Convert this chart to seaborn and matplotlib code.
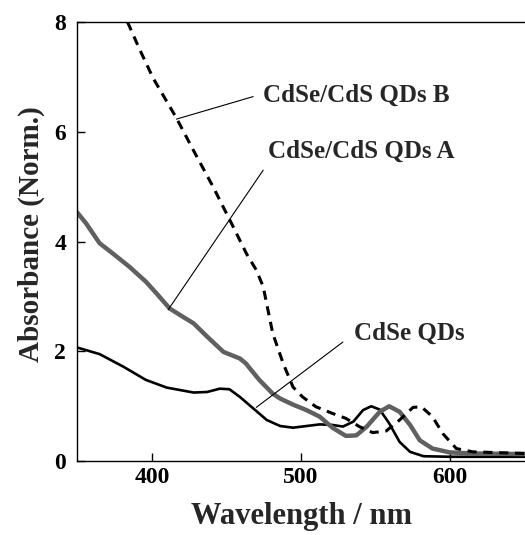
import numpy as np
import pandas as pd
import matplotlib
matplotlib.use("Agg")
import matplotlib.pyplot as plt
import seaborn as sns

# CdSe QDs (black solid)
cdse_x = [350, 365, 381, 396, 410, 428, 437, 445.5, 452, 459, 468, 477, 486, 494.6, 503.6,
          512.5, 521, 528, 535, 541.5, 547, 552.7, 559, 566, 573, 582, 600, 625, 650]
cdse_y = [2.07, 1.95, 1.72, 1.48, 1.34, 1.25, 1.26, 1.32, 1.31, 1.17, 0.96, 0.75, 0.64, 0.61, 0.64,
          0.67, 0.66, 0.63, 0.72, 0.93, 1.00, 0.94, 0.69, 0.35, 0.17, 0.09, 0.08, 0.08, 0.08]

# CdSe/CdS QDs A (gray)
a_x = [350, 356, 365, 374, 385, 396, 403, 412, 419, 428, 437, 448, 459, 463, 472, 481, 486,
       494.6, 503.6, 512.5, 521, 530, 537, 544, 552.7, 559, 566, 573, 579.5, 588, 599.5, 615, 650]
a_y = [4.53, 4.33, 3.97, 3.78, 3.54, 3.27, 3.06, 2.78, 2.66, 2.51, 2.27, 1.99, 1.87, 1.78, 1.48, 1.23, 1.14,
       1.03, 0.93, 0.81, 0.61, 0.46, 0.47, 0.63, 0.90, 1.00, 0.90, 0.66, 0.38, 0.23, 0.16, 0.14, 0.13]

# CdSe/CdS QDs B (dashed)
b_x = [383.7, 392, 401, 416.5, 427.7, 441, 454.5, 463.4, 470, 474.6, 481, 488, 494.6, 501, 510,
       521, 530, 539, 548, 557, 566, 575, 580.6, 588, 595, 604, 615, 650]
b_y = [8.0, 7.49, 6.97, 6.25, 5.67, 5.0, 4.27, 3.78, 3.48, 3.18, 2.33, 1.78, 1.35, 1.17, 0.99,
       0.87, 0.78, 0.63, 0.52, 0.55, 0.75, 0.98, 0.99, 0.81, 0.50, 0.23, 0.17, 0.14]

labels = ["CdSe/CdS QDs B", "CdSe/CdS QDs A", "CdSe QDs"]
label_text_xy = [(474.5, 6.67), (477.9, 5.64), (535.5, 2.33)]
label_line_start = [(467.9, 6.64), (474.6, 5.30), (528.0, 2.17)]
label_line_end = [(416.5, 6.23), (411.0, 2.76), (470.0, 0.98)]

xticks = [400, 500, 600]
yticks = [0, 2, 4, 6, 8]

sns.set_theme(style="ticks")
plt.rcParams['font.family'] = ['Liberation Serif', 'DejaVu Serif']
plt.rcParams['font.weight'] = 'bold'

fig = plt.figure(figsize=(5.25, 5.35), dpi=100)
ax = fig.add_axes([0.147, 0.138, 0.853, 0.821])

df_c = pd.DataFrame({"x": cdse_x, "y": cdse_y})
df_a = pd.DataFrame({"x": a_x, "y": a_y})
df_b = pd.DataFrame({"x": b_x, "y": b_y})

sns.lineplot(data=df_c, x="x", y="y", ax=ax, color="black", linewidth=1.9, sort=False)
sns.lineplot(data=df_a, x="x", y="y", ax=ax, color="#606060", linewidth=3.2, sort=False)
sns.lineplot(data=df_b, x="x", y="y", ax=ax, color="black", linewidth=2.2, sort=False,
             dashes=False)
ax.lines[-1].set_dashes([3.0, 2.2])

for lab, txy, ls, le in zip(labels, label_text_xy, label_line_start, label_line_end):
    ax.plot([ls[0], le[0]], [ls[1], le[1]], color="black", linewidth=0.8)
    ax.text(txy[0], txy[1], lab, fontsize=18, fontweight='bold', ha='left', va='center')

ax.set_xlim(350, 650)
ax.set_ylim(0, 8)
ax.set_xticks(xticks)
ax.set_yticks(yticks)
ax.tick_params(direction='in', length=6, width=1, labelsize=17, colors='black')
ax.tick_params(axis='x', pad=4)
ax.tick_params(axis='y', pad=8)
for t in ax.get_xticklabels() + ax.get_yticklabels():
    t.set_fontweight('bold')
ax.set_xlabel("Wavelength / nm", fontsize=22, fontweight='bold')
ax.set_ylabel("Absorbance (Norm.)", fontsize=21, fontweight='bold')
ax.xaxis.set_label_coords(0.5, -0.093)
ax.yaxis.set_label_coords(-0.072, 0.516)
ax.spines['right'].set_visible(False)
for s in ['left', 'top', 'bottom']:
    ax.spines[s].set_linewidth(1.0)
    ax.spines[s].set_color('black')

fig.savefig("out.png", dpi=100)
